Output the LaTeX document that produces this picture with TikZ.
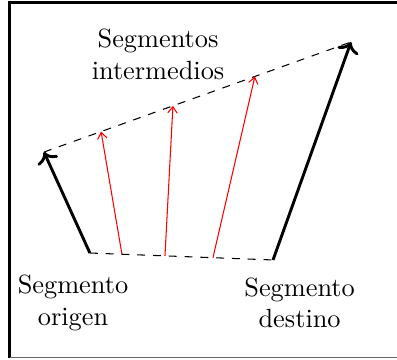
\documentclass[tikz,border=0pt]{standalone}
\usepackage{tikz}
\usetikzlibrary{calc,arrows.meta}
\tikzset{
  seg/.style={->, line width=1.1pt, draw=black},
  interseg/.style={-{Straight Barb[length=2.4pt,width=3.6pt]}, draw=red},
  guide/.style={dashed, draw=black},
  lbl/.style={align=center, inner sep=0pt},
}

\begin{document}
\begin{tikzpicture}
    \useasboundingbox (0,0) rectangle (5.3,4.793);
    % frame
    \draw[line width=1.3pt] (0.13,0.02) -- (0.13,4.76) -- (5.3,4.76);
    \draw[gray!80!black, line width=0.6pt] (0.13,0.02) -- (5.3,0.02);
    % end points of both segments
    \coordinate (o0) at (1.20,1.415);
    \coordinate (o1) at (0.587,2.763);
    \coordinate (d0) at (3.645,1.322);
    \coordinate (d1) at (4.686,4.232);
    \draw[guide] (o0) -- (d0);
    \draw[guide] (o1) -- (d1);
    \draw[seg] (o0) -- (o1);
    \draw[seg] (d0) -- (d1);
    \foreach \t/\u [count=\i] in {0.175/0.186, 0.41/0.42, 0.672/0.687} {
      \coordinate (m\i a) at ($(o0)!\t!(d0)$);
      \coordinate (m\i b) at ($(o1)!\u!(d1)$);
      \draw[interseg] (m\i a) -- (m\i b);
    }
    \node[lbl] (inter) at (2.11,4.07) {Segmentos\\intermedios};
    \node[lbl] (orig) at (0.975,0.75) {Segmento\\origen};
    \node[lbl] (dest) at (4.0,0.75) {Segmento\\destino};
  \end{tikzpicture}
\end{document}
